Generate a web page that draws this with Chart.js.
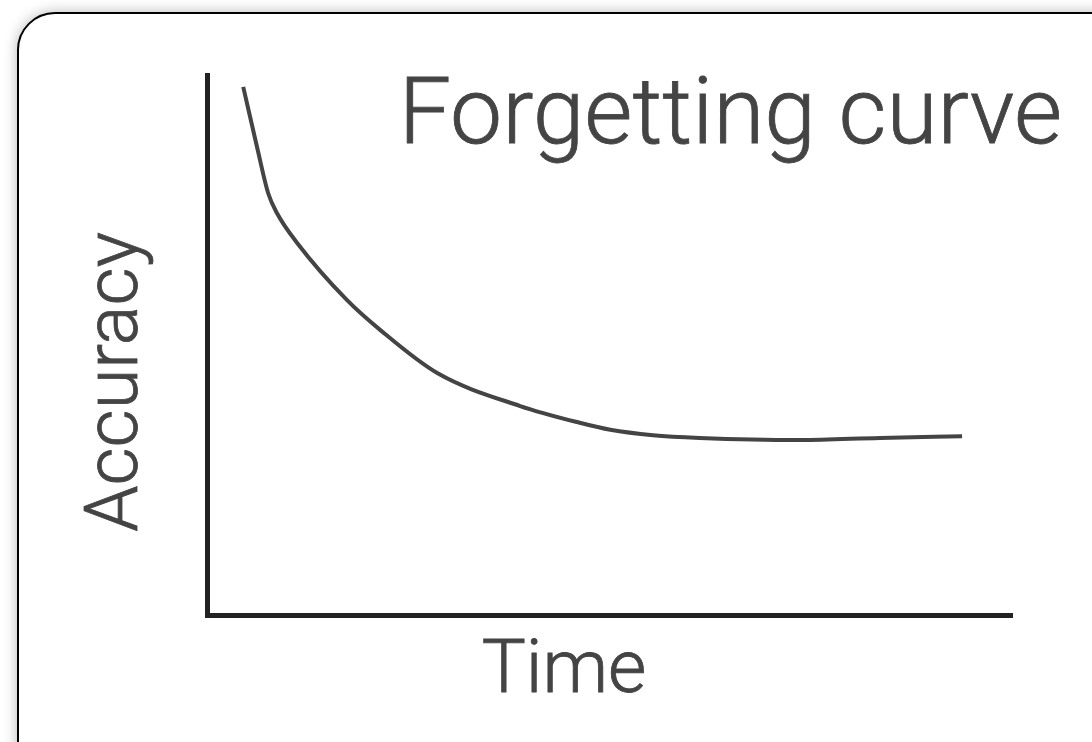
<!DOCTYPE html>
<html>
<head>
<meta charset="utf-8">
<title>Forgetting curve</title>
<script src="https://cdn.jsdelivr.net/npm/chart.js@4/dist/chart.umd.min.js"></script>
<style>
    html, body {
        margin: 0;
        padding: 0;
        width: 1092px;
        height: 742px;
        overflow: hidden;
        background: #fff;
    }
    .card {
        position: absolute;
        left: 17px;
        top: 12px;
        width: 1120px;
        height: 770px;
        border: 2px solid #000;
        border-radius: 38px;
        box-shadow: 0 0 14px rgba(0, 0, 0, 0.28);
        background: #fff;
    }
    #chart-wrap {
        position: absolute;
        left: 0;
        top: 0;
        width: 1092px;
        height: 742px;
    }
</style>
</head>
<body>
<div class="card"></div>
<div id="chart-wrap"><canvas id="forgetting-chart"></canvas></div>
<script>
// Curve samples: time (0-100) and accuracy (0-100)
const timeValues = [4.5, 6.3, 7.6, 8.7, 11.2, 17.4, 21.5, 28.6, 38.9, 46.3, 50.1, 55.4, 61.2, 73.7, 83.6, 93.8];
const accuracyValues = [97.8, 86.1, 78.1, 74.4, 68.9, 58.3, 52.8, 44.8, 38.7, 35.6, 34.3, 33.3, 32.8, 32.4, 32.8, 33.1];

const chartTitle = 'Forgetting curve';
const xLabel = 'Time';
const yLabel = 'Accuracy';

const FONT = "300 {size}px Roboto, 'Helvetica Neue', Arial, sans-serif";
const TEXT_COLOR = '#444';

function font(size) {
    return FONT.replace('{size}', size);
}

// Big labels drawn around the plot area
const labelPlugin = {
    id: 'bigLabels',
    afterDraw(chart) {
        const { ctx, chartArea } = chart;
        ctx.save();
        ctx.fillStyle = TEXT_COLOR;
        ctx.strokeStyle = TEXT_COLOR;
        ctx.lineWidth = 0.8;
        ctx.textBaseline = 'alphabetic';

        // title, right aligned above the curve
        ctx.font = font(93);
        ctx.textAlign = 'right';
        ctx.fillText(chartTitle, chartArea.right + 50, chartArea.top + 68);
        ctx.strokeText(chartTitle, chartArea.right + 50, chartArea.top + 68);

        // x label
        ctx.font = font(74);
        ctx.textAlign = 'center';
        ctx.fillText(xLabel, 564, chartArea.bottom + 77);
        ctx.strokeText(xLabel, 564, chartArea.bottom + 77);

        // y label, rotated
        ctx.translate(137, 382);
        ctx.rotate(-Math.PI / 2);
        ctx.fillText(yLabel, 0, 0);
        ctx.strokeText(yLabel, 0, 0);
        ctx.restore();
    }
};

const ctx = document.getElementById('forgetting-chart');

new Chart(ctx, {
    type: 'line',
    data: {
        datasets: [{
            data: timeValues.map((t, i) => ({ x: t, y: accuracyValues[i] })),
            borderColor: '#444',
            borderWidth: 4,
            pointRadius: 0,
            cubicInterpolationMode: 'monotone',
            fill: false
        }]
    },
    options: {
        responsive: true,
        maintainAspectRatio: false,
        animation: false,
        layout: {
            padding: { left: 207, right: 80, top: 75, bottom: 127 }
        },
        plugins: {
            legend: { display: false },
            tooltip: { enabled: false },
            title: { display: false }
        },
        scales: {
            x: {
                type: 'linear',
                min: 0,
                max: 100,
                ticks: { display: false },
                grid: { display: false, drawTicks: false },
                border: { display: true, width: 5, color: '#222' }
            },
            y: {
                min: 0,
                max: 100,
                ticks: { display: false },
                grid: { display: false, drawTicks: false },
                border: { display: true, width: 5, color: '#222' }
            }
        }
    },
    plugins: [labelPlugin]
});
</script>
</body>
</html>
